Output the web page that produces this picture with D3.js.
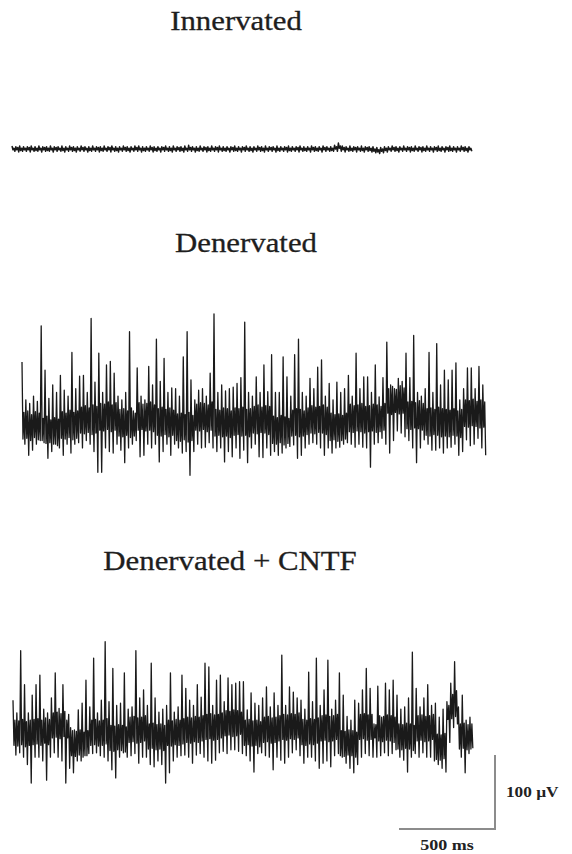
<!doctype html>
<html>
  <style>
    body {
      margin: 0;
      background-color: #fff;
    }
    .trace {
      fill: none;
      stroke: #1a1a1a;
      stroke-width: 1.3px;
      stroke-linejoin: round;
    }
    .title {
      font-family: "Liberation Serif", "Times New Roman", serif;
      font-size: 28px;
      fill: #1e1e1e;
      stroke: #1e1e1e;
      stroke-width: 0.3px;
    }
    .bar-label {
      font-family: "Liberation Serif", "Times New Roman", serif;
      font-size: 15px;
      font-weight: bold;
      fill: #222;
    }
    .bar {
      stroke: #8c8c8c;
      stroke-width: 2px;
      fill: none;
    }
  </style>
  <body>
  <script src="https://cdn.jsdelivr.net/npm/d3@7/dist/d3.min.js"></script>
  <script>
    // each 20 ms column of a trace: peak, core low, core high, trough (µV)
    var columnMs = 20;

    var innervatedHigh = [4,3,4,3,3,4,3,4,3,3, 4,3,3,4,3,4,3,3,4,3, 3,4,3,3,4,3,4,3,3,4,
                          3,3,4,4,3,3,4,3,3,3, 4,3,4,3,3,4,5,3,3,4, 3,3,4,3,4,3,3,3,4,3,
                          3,4,3,3,4,3,4,3,3,4, 3,3,4,3,3,4,3,3,4,3, 3,4,3,3,5,8,4,3,4,3,
                          3,4,3,3,3,2,2,3,3,4, 3,3,4,3,3,4,3,3,4,3, 3,4,3,3,4,3,3,4,3,3];
    var innervatedLow = [-3,-4,-3,-3,-4,-3,-3,-4,-3,-3, -4,-3,-3,-4,-3,-3,-4,-3,-3,-4,
                         -3,-3,-4,-3,-3,-4,-3,-4,-3,-3, -4,-3,-3,-4,-3,-3,-4,-3,-4,-3,
                         -3,-4,-3,-3,-4,-3,-3,-4,-3,-3, -4,-3,-3,-4,-3,-3,-4,-3,-3,-4,
                         -3,-3,-4,-3,-3,-4,-3,-3,-4,-3, -3,-4,-3,-3,-4,-3,-3,-4,-3,-3,
                         -4,-3,-3,-3,-3,-3,-4,-3,-3,-4, -3,-4,-3,-4,-5,-6,-5,-4,-3,-3,
                         -4,-3,-3,-4,-3,-3,-4,-3,-3,-4, -3,-3,-4,-3,-3,-4,-3,-3,-4,-3];
    var innervatedCoreHigh = [1,2,1,1,2,1,1,1,2,1, 1,2,1,1,1,2,1,1,2,1, 1,1,2,1,1,2,1,1,1,2,
                              1,1,2,1,1,1,2,1,1,2, 1,1,1,2,1,1,2,1,1,1, 2,1,1,2,1,1,1,2,1,1,
                              2,1,1,1,2,1,1,2,1,1, 1,2,1,1,2,1,1,1,2,1, 1,2,1,1,3,4,2,1,1,2,
                              1,1,2,1,0,-1,0,1,1,2, 1,1,1,2,1,1,2,1,1,1, 2,1,1,2,1,1,1,2,1,1];
    var innervatedCoreLow = [-1,-1,-2,-1,-1,-1,-2,-1,-1,-2, -1,-1,-1,-2,-1,-1,-2,-1,-1,-1,
                             -2,-1,-1,-2,-1,-1,-1,-2,-1,-1, -2,-1,-1,-1,-2,-1,-1,-2,-1,-1,
                             -1,-2,-1,-1,-2,-1,-1,-1,-2,-1, -1,-2,-1,-1,-1,-2,-1,-1,-2,-1,
                             -1,-1,-2,-1,-1,-2,-1,-1,-1,-2, -1,-1,-2,-1,-1,-1,-2,-1,-1,-2,
                             -1,-1,-1,-2,0,1,-1,-1,-2,-1, -1,-2,-1,-2,-3,-4,-3,-2,-1,-1,
                             -2,-1,-1,-1,-2,-1,-1,-2,-1,-1, -1,-2,-1,-1,-2,-1,-1,-1,-2,-1];

    var denervatedHigh = [81,30,25,35,28,130,70,32,50,40, 63,43,35,94,45,62,63,40,140,54,
                          93,40,77,82,66,35,30,40,122,15, 73,35,30,75,50,112,55,86,40,46,
                          45,35,88,122,57,30,43,45,35,66, 146,40,50,42,45,47,52,60,135,40,
                          35,61,40,77,41,91,40,40,88,61, 35,91,112,40,35,59,45,74,84,35,
                          52,30,54,40,45,63,35,93,45,61, 61,40,77,34,60,108,50,45,59,55,
                          93,60,117,40,35,45,94,40,106,50, 70,57,70,80,30,45,73,73,45,75, 50];
    var denervatedLow = [-30,-45,-38,-30,-25,-28,-49,-40,-30,-35, -45,-30,-42,-30,-28,-35,-25,-30,-40,-68,
                         -68,-35,-40,-42,-30,-38,-55,-35,-30,-25, -47,-45,-30,-35,-30,-54,-40,-30,-45,-30,
                         -35,-42,-40,-72,-40,-30,-35,-34,-28,-35, -40,-35,-54,-40,-47,-35,-49,-38,-55,-35,
                         -30,-47,-48,-35,-45,-40,-45,-42,-35,-33, -31,-49,-45,-35,-30,-28,-30,-35,-45,-35,
                         -42,-35,-34,-30,-28,-30,-34,-30,-34,-35, -61,-30,-28,-22,-30,-42,-25,-12,-15,-20,
                         -25,-35,-55,-35,-24,-30,-38,-38,-35,-42, -35,-34,-30,-45,-40,-24,-32,-30,-22,-35, -45];
    var denervatedCoreHigh = [13,15,10,14,12, 5,8,3,6,4, 14,12,16,13,15, 20,22,19,23,21,
                              25,24,27,23,26, 17,18,15,19,12, 26,24,25,27,23, 18,20,17,19,16,
                              11,12,10,13,9, 24,26,25,23,27, 17,16,19,18,15, 19,18,20,17,18,
                              21,23,20,22,21, 8,6,9,7,5, 16,18,17,15,19, 22,20,21,23,20,
                              12,10,11,9,12, 24,22,23,25,21, 22,24,23,21,25, 45,48,44,49,46,
                              27,28,26,29,25, 18,19,17,20,18, 17,16,18,15,17, 30,29,31,28,30,27];
    var denervatedCoreLow = [-23,-22,-25,-21,-24, -25,-29,-28,-30,-32, -22,-23,-21,-24,-22, -15,-16,-14,-17,-15,
                             -11,-12,-10,-13,-11, -19,-20,-18,-21,-19, -11,-10,-12,-11,-13, -18,-19,-17,-20,-18,
                             -25,-26,-24,-27,-25, -11,-12,-10,-13,-11, -19,-18,-20,-19,-21, -18,-17,-19,-18,-20,
                             -15,-16,-14,-15,-17, -29,-30,-28,-31,-29, -19,-18,-20,-19,-17, -15,-16,-14,-15,-17,
                             -25,-24,-26,-25,-23, -13,-14,-12,-13,-15, -13,-12,-14,-13,-11, 12,10,13,11,12,
                             -9,-10,-8,-9,-11, -18,-19,-17,-18,-20, -19,-20,-18,-19,-21, -6,-7,-5,-6,-8,-7];

    var cntfHigh = [47,30,114,68,30,54,68,81,35,30, 50,84,36,68,20,10,7,34,43,74,
                    38,104,30,47,126,45,90,40,43,84, 35,38,114,50,61,40,97,50,31,35,
                    40,84,31,38,81,63,47,40,68,51, 97,92,40,74,81,45,77,68,70,72,
                    72,34,57,43,40,50,65,38,57,40, 108,40,65,58,50,47,35,85,45,104,
                    40,61,101,35,47,84,54,25,20,47, 43,61,90,63,15,66,24,70,61,74,
                    54,35,38,50,112,63,38,50,68,40, 43,24,35,45,70,99,38,54,20,24];
    var cntfLow = [-27,-24,-30,-40,-65,-30,-30,-35,-61,-30, -24,-30,-35,-65,-45,-51,-35,-35,-28,-25,
                   -25,-24,-28,-30,-35,-47,-58,-30,-24,-30, -28,-25,-38,-30,-30,-40,-43,-35,-40,-65,
                   -51,-35,-30,-28,-27,-30,-38,-27,-25,-30, -35,-38,-34,-24,-22,-25,-20,-20,-22,-25,
                   -28,-35,-50,-25,-24,-28,-30,-47,-30,-34, -38,-30,-24,-20,-28,-38,-30,-30,-35,-45,
                   -38,-35,-43,-28,-25,-30,-38,-45,-51,-40, -30,-25,-28,-30,-30,-28,-24,-28,-25,-20,
                   -30,-34,-50,-30,-25,-30,-24,-30,-30,-35, -40,-45,-50,-10,10,15,-30,-51,-25,-18];
    var cntfCoreHigh = [20,19,21,18,20, 21,22,20,23,21, 30,31,29,32,28, 6,5,7,4,6,
                        20,21,19,20,22, 13,12,14,13,11, 24,25,23,24,26, 15,16,14,15,13,
                        20,19,21,20,22, 24,23,25,24,26, 28,29,27,28,30, 33,32,34,33,31,
                        20,21,19,20,18, 24,25,23,24,26, 28,27,29,28,30, 21,20,22,21,23,
                        26,27,25,26,28, 6,5,7,6,4, 28,29,27,28,14, 26,25,27,26,24,
                        15,14,16,15,13, 26,27,25,26,28, 1,0,2,40,55,60, 15,16,14,15];
    var cntfCoreLow = [-14,-15,-13,-16,-14, -13,-12,-14,-11,-13, -4,-3,-5,-2,-4, -28,-29,-27,-30,-28,
                       -14,-13,-15,-14,-12, -21,-22,-20,-21,-23, -10,-9,-11,-10,-8, -19,-18,-20,-19,-21,
                       -14,-15,-13,-14,-12, -10,-11,-9,-10,-8, -6,-5,-7,-6,-4, -1,0,-2,-1,1,
                       -14,-13,-15,-14,-16, -10,-9,-11,-10,-8, -6,-7,-5,-6,-4, -13,-14,-12,-13,-11,
                       -8,-7,-9,-8,-6, -28,-29,-27,-28,-30, -6,-5,-7,-6,-4, -8,-9,-7,-8,-10,
                       -19,-20,-18,-19,-21, -8,-7,-9,-8,-6, -33,-34,-32,21,22,25, -19,-18,-20,-19];

    var titles = ['Innervated', 'Denervated', 'Denervated + CNTF'];
    var scaleBarMs = 500,
        scaleBarMicroV = 100;

    var width = 572,
        height = 854;

    var pxPerMs = 0.192,     // 500 ms -> 96 px
        pxPerMicroV = 0.74;  // 100 uV -> 74 px

    var panels = [
      {title: titles[0], high: innervatedHigh, low: innervatedLow,
       coreHigh: innervatedCoreHigh, coreLow: innervatedCoreLow, left: 12, zero: 149, tx: 236, ty: 30},
      {title: titles[1], high: denervatedHigh, low: denervatedLow,
       coreHigh: denervatedCoreHigh, coreLow: denervatedCoreLow, left: 22, zero: 422, tx: 246, ty: 252},
      {title: titles[2], high: cntfHigh, low: cntfLow,
       coreHigh: cntfCoreHigh, coreLow: cntfCoreLow, left: 13, zero: 735, tx: 230, ty: 570}
    ];

    var svg = d3.select('body').append('svg')
        .attr('width', width)
        .attr('height', height);

    var toPoints = function (p) {
      var pts = [];
      p.high.forEach(function (h, i) {
        var t = i * columnMs;
        pts.push({t: t, v: h});
        pts.push({t: t + 5, v: p.coreLow[i]});
        pts.push({t: t + 10, v: p.coreHigh[i]});
        pts.push({t: t + 15, v: p.low[i]});
      });
      return pts;
    };

    panels.forEach(function (p, k) {
      var duration = p.high.length * columnMs;
      var x = d3.scaleLinear()
          .domain([0, duration])
          .range([p.left, p.left + duration * pxPerMs]);
      var y = d3.scaleLinear()
          .domain([0, 100])
          .range([p.zero, p.zero - 100 * pxPerMicroV]);

      var line = d3.line()
          .x(function (d) { return x(d.t); })
          .y(function (d) { return y(d.v); });

      svg.append('path')
          .datum(toPoints(p))
          .attr('class', 'trace')
          .style('stroke-width', k === 0 ? '1.5px' : null)
          .attr('d', line);

      svg.append('g')
          .attr('transform', 'translate(' + p.tx + ',' + p.ty + ') scale(1.1,1)')
        .append('text')
          .attr('class', 'title')
          .attr('text-anchor', 'middle')
          .text(p.title);
    });

    // scale bar, bottom right
    var barX = d3.scaleLinear().domain([0, scaleBarMs]).range([495 - scaleBarMs * pxPerMs, 495]);
    var barY = d3.scaleLinear().domain([0, scaleBarMicroV]).range([829, 829 - scaleBarMicroV * pxPerMicroV]);

    svg.append('path')
        .attr('class', 'bar')
        .attr('d', 'M' + barX(0) + ',' + barY(0) + 'H' + barX(scaleBarMs) + 'V' + barY(scaleBarMicroV));

    svg.append('g')
        .attr('transform', 'translate(506,797) scale(1.15,1)')
      .append('text')
        .attr('class', 'bar-label')
        .text(scaleBarMicroV + ' \u00b5V');

    svg.append('g')
        .attr('transform', 'translate(' + barX(scaleBarMs * 0.5) + ',850) scale(1.2,1)')
      .append('text')
        .attr('class', 'bar-label')
        .attr('text-anchor', 'middle')
        .text(scaleBarMs + ' ms');
  </script>
  </body>
</html>
